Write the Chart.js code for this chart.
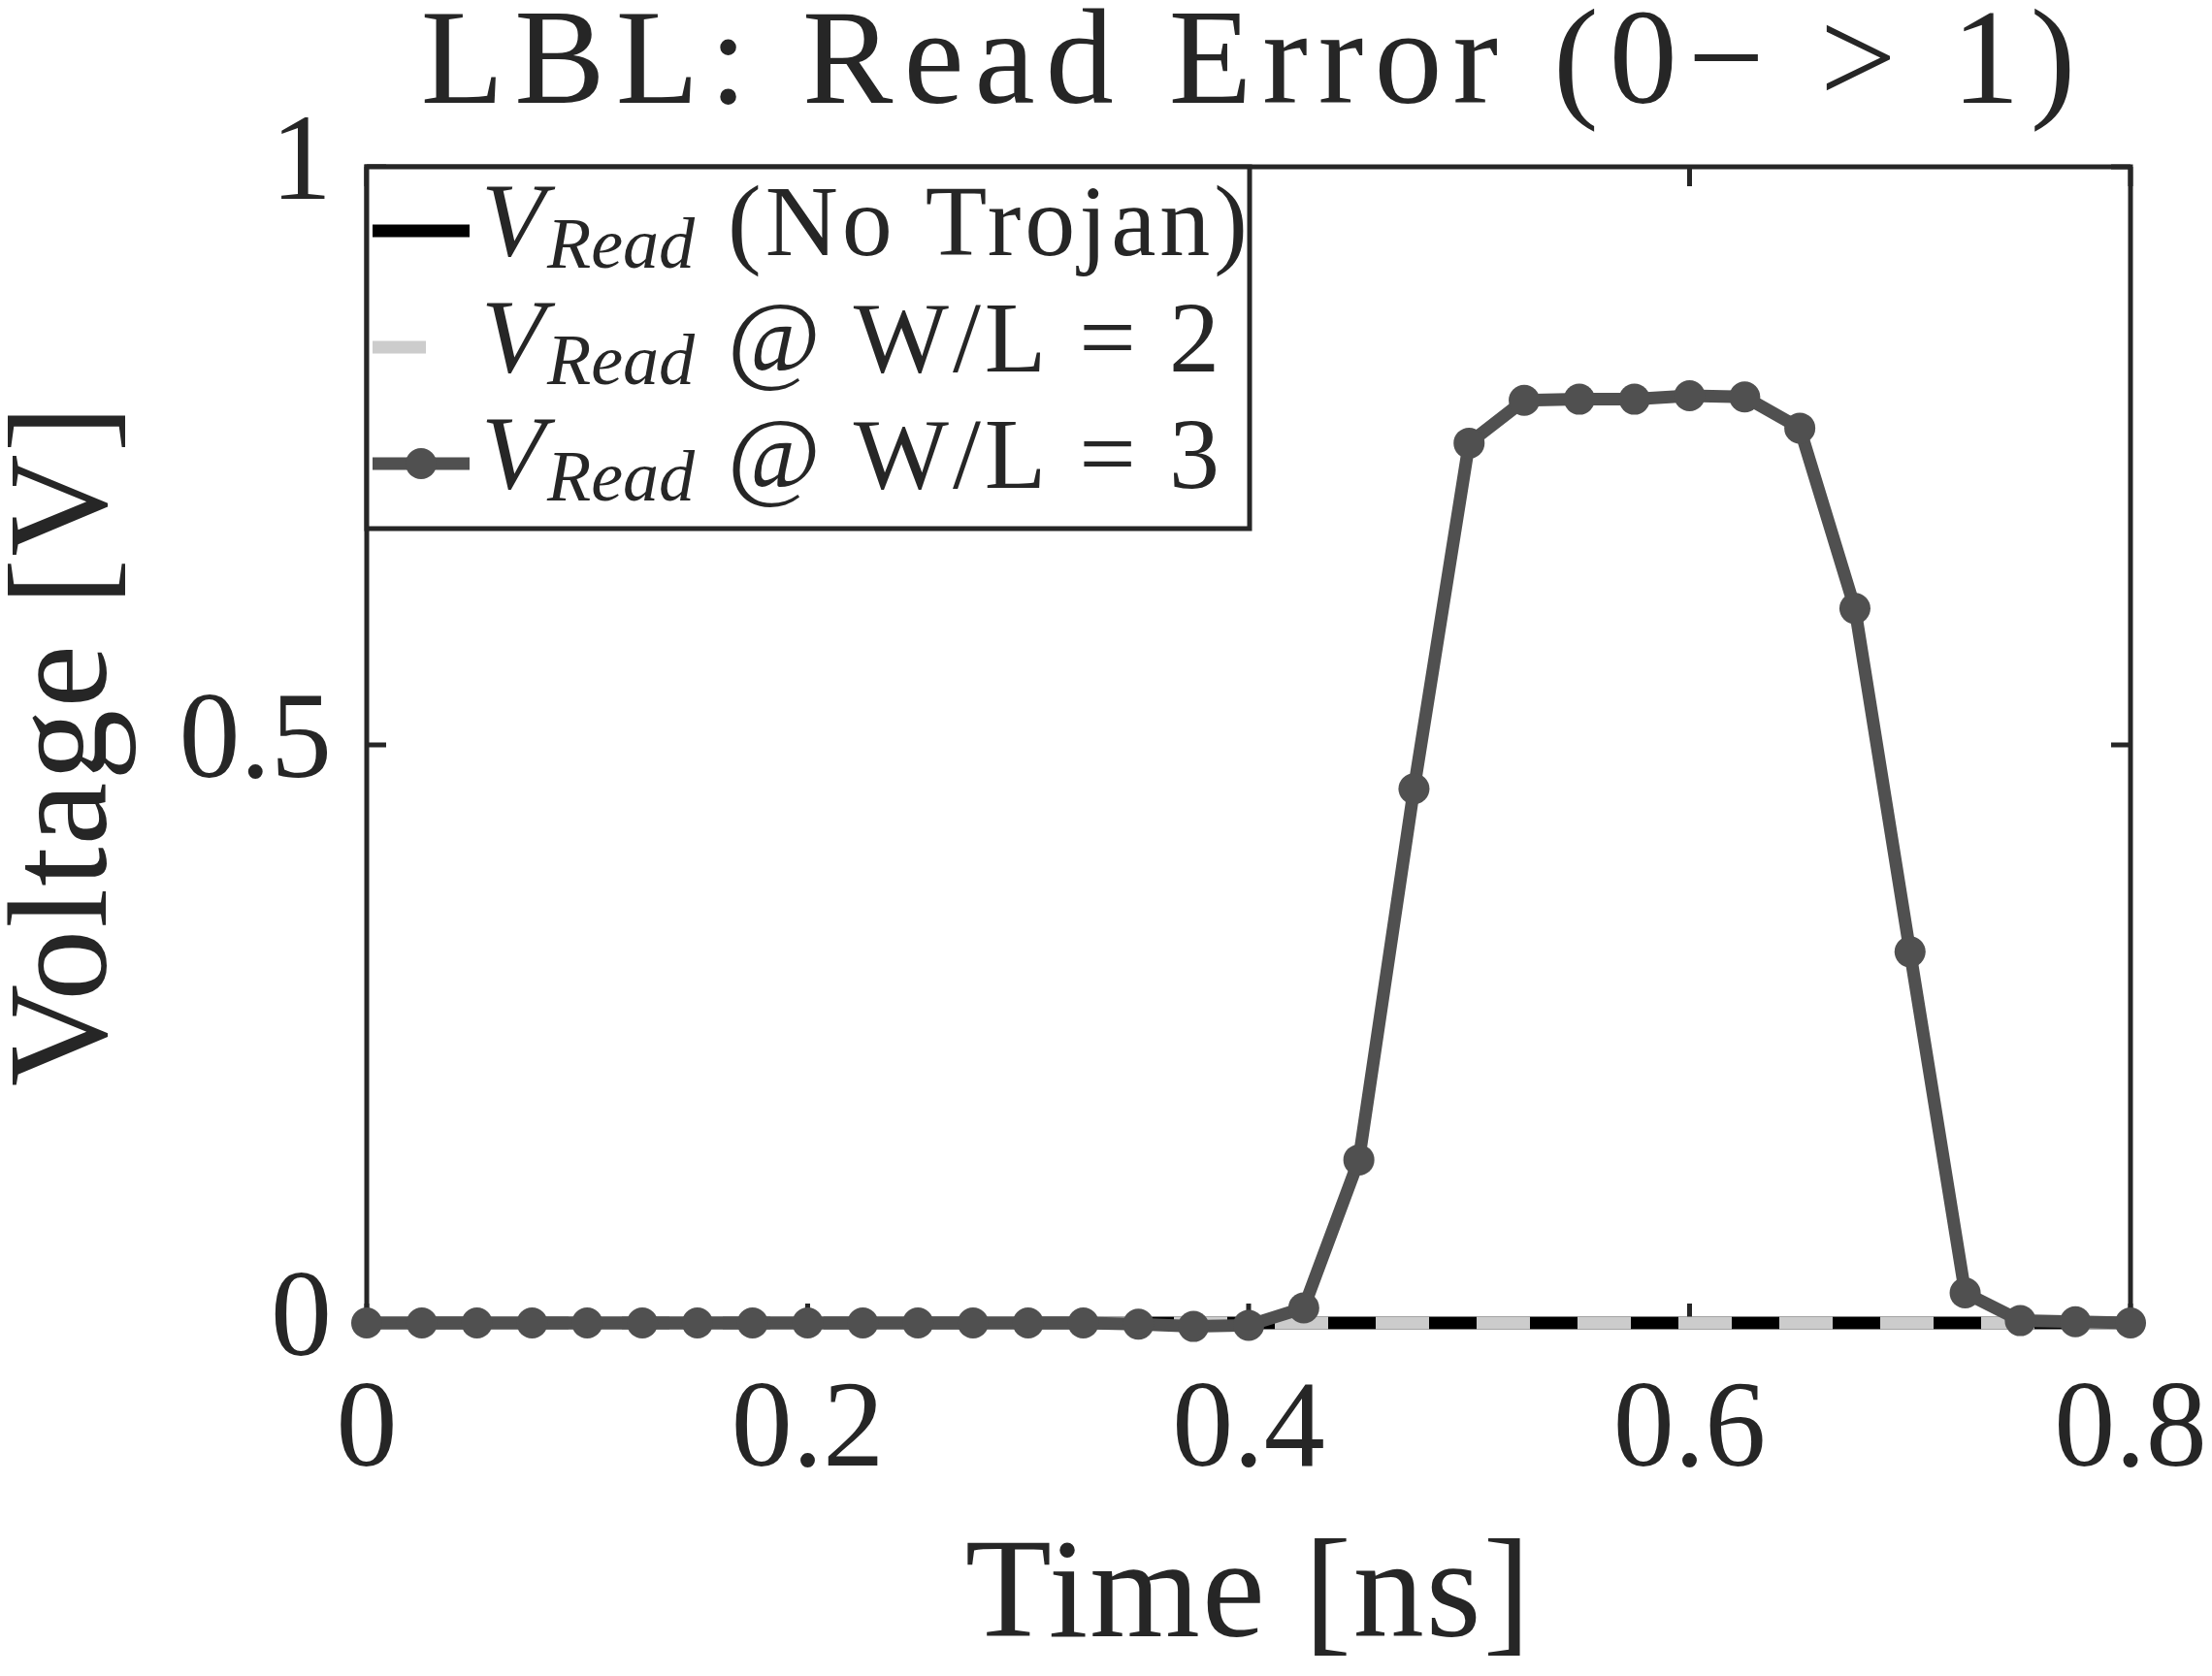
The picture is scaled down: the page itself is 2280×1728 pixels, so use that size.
<!DOCTYPE html>
<html>
<head>
<meta charset="utf-8">
<script src="https://cdn.jsdelivr.net/npm/chart.js@4.4.0/dist/chart.umd.min.js"></script>
<style>
  html, body { margin: 0; padding: 0; background: #fff; }
  canvas { display: block; }
</style>
</head>
<body>
<canvas id="c" width="2280" height="1728"></canvas>
<script>
// time samples [ns]
const timeNs = [0, 0.025, 0.05, 0.075, 0.1, 0.125, 0.15, 0.175, 0.2, 0.225, 0.25,
  0.275, 0.3, 0.325, 0.35, 0.375, 0.4, 0.425, 0.45, 0.475, 0.5, 0.525, 0.55,
  0.575, 0.6, 0.625, 0.65, 0.675, 0.7, 0.725, 0.75, 0.775, 0.8];
const vNoTrojan = [0, 0, 0, 0, 0, 0, 0, 0, 0, 0, 0, 0, 0, 0, 0, 0, 0,
  0, 0, 0, 0, 0, 0, 0, 0, 0, 0, 0, 0, 0, 0, 0, 0];
const vWL2 = [0, 0, 0, 0, 0, 0, 0, 0, 0, 0, 0, 0, 0, 0, 0, 0, 0,
  0, 0, 0, 0, 0, 0, 0, 0, 0, 0, 0, 0, 0, 0, 0, 0];
const vWL3 = [0, 0, 0, 0, 0, 0, 0, 0, 0, 0, 0, 0, 0, 0, -0.001, -0.003, -0.002,
  0.013, 0.141, 0.462, 0.761, 0.798, 0.799, 0.799, 0.802, 0.801, 0.774,
  0.618, 0.321, 0.026, 0.002, 0.001, 0];

const xTicks = [0, 0.2, 0.4, 0.6, 0.8];
const xTickLabels = ['0', '0.2', '0.4', '0.6', '0.8'];
const yTicks = [0, 0.5, 1];
const yTickLabels = ['0', '0.5', '1'];

const titleText = 'LBL: Read Error (0\u2212 > 1)';
const xTitle = 'Time [ns]';
const yTitle = 'Voltage [V]';
const legendSub = ['Read', 'Read', 'Read'];
const legendRest = [' (No Trojan)', ' @ W/L = 2', ' @ W/L = 3'];

const AXIS = '#262626';
const SERIF = '"Liberation Serif", "DejaVu Serif", serif';
const dash = [55, 49];

const pts = ys => timeNs.map((t, i) => ({ x: t, y: ys[i] }));

// axes box, inward ticks, title, axis labels and the legend
const matlabFrame = {
  id: 'matlabFrame',
  beforeDatasetsDraw(chart) {
    const { ctx, chartArea: a, scales: { x, y } } = chart;
    ctx.save();
    ctx.strokeStyle = AXIS;
    ctx.lineWidth = 5;
    ctx.strokeRect(a.left, a.top, a.right - a.left, a.bottom - a.top);
    ctx.beginPath();
    xTicks.forEach(v => {
      const px = x.getPixelForValue(v);
      ctx.moveTo(px, a.bottom); ctx.lineTo(px, a.bottom - 20);
      ctx.moveTo(px, a.top); ctx.lineTo(px, a.top + 20);
    });
    yTicks.forEach(v => {
      const py = y.getPixelForValue(v);
      ctx.moveTo(a.left, py); ctx.lineTo(a.left + 20, py);
      ctx.moveTo(a.right, py); ctx.lineTo(a.right - 20, py);
    });
    ctx.stroke();
    ctx.restore();
  },
  afterDraw(chart) {
    const { ctx, chartArea: a } = chart;
    const cx = (a.left + a.right) / 2;
    ctx.save();
    ctx.fillStyle = AXIS;
    ctx.textAlign = 'center';
    ctx.textBaseline = 'alphabetic';
    ctx.font = `140px ${SERIF}`;
    ctx.letterSpacing = '11px';
    ctx.fillText(titleText, cx + 5, 106);
    ctx.letterSpacing = '2px';
    ctx.font = `146px ${SERIF}`;
    ctx.fillText(xTitle, cx, 1687);
    ctx.save();
    ctx.translate(109, (a.top + a.bottom) / 2);
    ctx.rotate(-Math.PI / 2);
    ctx.font = `146px ${SERIF}`;
    ctx.fillText(yTitle, 0, 0);
    ctx.restore();
    ctx.letterSpacing = '0px';

    // legend
    const lx = a.left, ly = a.top, lw = 910, lh = 373;
    ctx.fillStyle = '#fff';
    ctx.fillRect(lx, ly, lw, lh);
    ctx.strokeStyle = AXIS;
    ctx.lineWidth = 5;
    ctx.strokeRect(lx, ly, lw, lh);
    chart.data.datasets.forEach((ds, i) => {
      const cy = ly + 66 + i * 120;
      ctx.save();
      ctx.strokeStyle = ds.borderColor;
      ctx.lineWidth = ds.borderWidth;
      ctx.setLineDash(ds.borderDash || []);
      ctx.beginPath();
      ctx.moveTo(lx + 6, cy); ctx.lineTo(lx + 106, cy);
      ctx.stroke();
      ctx.restore();
      if (ds.pointRadius > 0) {
        ctx.fillStyle = ds.pointBackgroundColor;
        ctx.beginPath();
        ctx.arc(lx + 56, cy, ds.pointRadius, 0, Math.PI * 2);
        ctx.fill();
      }
      let tx = lx + 118;
      const base = cy + 25;
      ctx.fillStyle = AXIS;
      ctx.textAlign = 'left';
      ctx.font = `italic 108px ${SERIF}`;
      ctx.fillText('V', tx, base);
      tx += ctx.measureText('V').width + 2;
      ctx.font = `italic 74px ${SERIF}`;
      ctx.fillText(legendSub[i], tx, base + 13);
      tx += ctx.measureText(legendSub[i]).width + 4;
      ctx.font = `104px ${SERIF}`;
      ctx.letterSpacing = '4px';
      ctx.fillText(legendRest[i], tx, base);
      ctx.letterSpacing = '0px';
    });
    ctx.restore();
  }
};

new Chart(document.getElementById('c').getContext('2d'), {
  type: 'line',
  data: {
    datasets: [
      {
        label: 'V_Read (No Trojan)',
        data: pts(vNoTrojan),
        borderColor: '#000000',
        borderWidth: 13,
        pointRadius: 0,
        borderCapStyle: 'butt',
        clip: false,
        order: 3,
      },
      {
        label: 'V_Read @ W/L = 2',
        data: pts(vWL2),
        borderColor: '#cccccc',
        borderWidth: 13,
        borderDash: dash,
        pointRadius: 0,
        borderCapStyle: 'butt',
        clip: false,
        order: 2,
      },
      {
        label: 'V_Read @ W/L = 3',
        data: pts(vWL3),
        borderColor: '#505050',
        borderWidth: 13,
        pointRadius: 16,
        pointBorderWidth: 0,
        pointBackgroundColor: '#505050',
        pointBorderColor: '#505050',
        clip: false,
        order: 1,
      },
    ],
  },
  options: {
    responsive: false,
    animation: false,
    devicePixelRatio: 1,
    layout: { padding: { top: 172, right: 84, left: 0, bottom: 0 } },
    plugins: {
      legend: { display: false },
      title: { display: false },
      tooltip: { enabled: false },
    },
    scales: {
      x: {
        type: 'linear',
        min: 0, max: 0.8,
        afterFit: s => { s.height = 364; s.paddingLeft = 0; s.paddingRight = 0; },
        afterBuildTicks: s => { s.ticks = xTicks.map(v => ({ value: v })); },
        ticks: {
          callback: (v) => xTickLabels[xTicks.indexOf(v)] ?? '',
          color: AXIS,
          font: { family: SERIF, size: 126 },
          padding: 38,
          maxRotation: 0,
          autoSkip: false,
        },
        grid: { display: false, drawTicks: false },
        border: { display: false },
      },
      y: {
        type: 'linear',
        min: 0, max: 1,
        afterFit: s => { s.width = 378; s.paddingTop = 0; s.paddingBottom = 0; },
        afterBuildTicks: s => { s.ticks = yTicks.map(v => ({ value: v })); },
        ticks: {
          callback: (v) => yTickLabels[yTicks.indexOf(v)] ?? '',
          color: AXIS,
          font: { family: SERIF, size: 126 },
          padding: 36,
          autoSkip: false,
        },
        grid: { display: false, drawTicks: false },
        border: { display: false },
      },
    },
  },
  plugins: [matlabFrame],
});
</script>
</body>
</html>
